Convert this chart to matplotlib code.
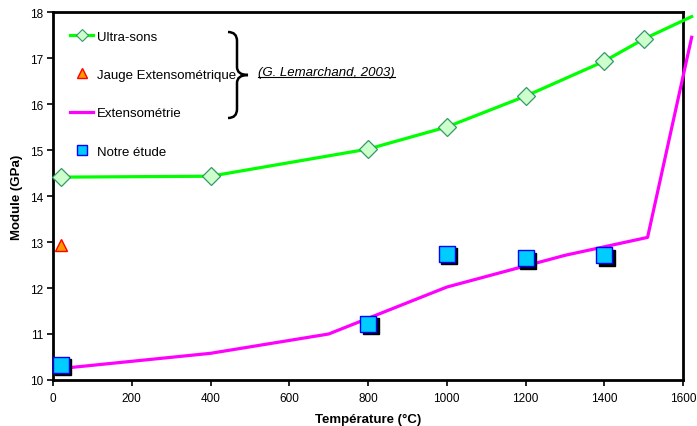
import matplotlib
matplotlib.use("Agg")
import matplotlib.pyplot as plt
import matplotlib.transforms as mtransforms
from matplotlib.path import Path
from matplotlib.patches import PathPatch
from matplotlib.lines import Line2D

plt.rcParams['font.family'] = ['Liberation Sans', 'DejaVu Sans']

# Ultra-sons (G. Lemarchand, 2003)
us_temp = [20, 400, 800, 1000, 1200, 1400, 1500, 1622]
us_mod = [14.41, 14.43, 15.02, 15.5, 16.17, 16.93, 17.41, 17.9]

# Extensometrie (G. Lemarchand, 2003)
ext_temp = [20, 400, 700, 1000, 1200, 1300, 1510, 1622]
ext_mod = [10.25, 10.58, 11.0, 12.02, 12.48, 12.71, 13.1, 17.45]

# Jauge extensometrique
jauge_temp = [20]
jauge_mod = [12.93]

# Notre etude
etude_temp = [20, 800, 1000, 1200, 1400]
etude_mod = [10.33, 11.22, 12.74, 12.65, 12.71]

x_ticks = [0, 200, 400, 600, 800, 1000, 1200, 1400, 1600]
y_ticks = [10, 11, 12, 13, 14, 15, 16, 17, 18]

W, H = 697, 427
fig = plt.figure(figsize=(W / 100, H / 100), dpi=100)
ax = fig.add_axes([53 / W, 1 - 381 / H, (683 - 53) / W, (381 - 13) / H])

green = '#00ff00'
magenta = '#ff00ff'

ax.plot(us_temp, us_mod, color=green, lw=2.3, clip_on=False, zorder=3,
        marker='D', markevery=list(range(len(us_temp) - 1)), markersize=9,
        markerfacecolor='#ccffcc', markeredgecolor='#339966', markeredgewidth=0.9)
ax.plot(ext_temp, ext_mod, color=magenta, lw=2.3, clip_on=False, zorder=3)

ax.plot(jauge_temp, jauge_mod, linestyle='none', marker='^', markersize=8,
        markerfacecolor='#ff9900', markeredgecolor='#ff0000', markeredgewidth=1, zorder=4)

# carres avec ombre portee
shadow = mtransforms.offset_copy(ax.transData, fig=fig, x=2.5, y=-2.5, units='dots')
ax.plot(etude_temp, etude_mod, linestyle='none', marker='s', markersize=11,
        color='black', transform=shadow, zorder=4, clip_on=False)
ax.plot(etude_temp, etude_mod, linestyle='none', marker='s', markersize=11,
        markerfacecolor='#00ccff', markeredgecolor='#0000ff', markeredgewidth=1,
        zorder=5, clip_on=False)

ax.set_xlim(0, 1600)
ax.set_ylim(10, 18)
ax.set_xticks(x_ticks)
ax.set_yticks(y_ticks)
ax.tick_params(direction='out', length=4, width=1.2, labelsize=8.5, pad=3)
ax.tick_params(axis='x', pad=5)
for s in ax.spines.values():
    s.set_linewidth(2)
    s.set_color('black')

ax.set_xlabel('Température (°C)', fontsize=9.5, fontweight='bold', labelpad=6)
ax.set_ylabel('Module (GPa)', fontsize=9.5, fontweight='bold', labelpad=5)

# legende
handles = [
    Line2D([], [], color=green, lw=2.3, marker='D', markersize=6,
           markerfacecolor='#ccffcc', markeredgecolor='#339966', markeredgewidth=0.8),
    Line2D([], [], linestyle='none', marker='^', markersize=6.5,
           markerfacecolor='#ff9900', markeredgecolor='#ff0000'),
    Line2D([], [], color=magenta, lw=2.3),
    Line2D([], [], linestyle='none', marker='s', markersize=6.5,
           markerfacecolor='#00ccff', markeredgecolor='#0000ff'),
]
labels = ['Ultra-sons', 'Jauge Extensométrique', 'Extensométrie', 'Notre étude']
leg = ax.legend(handles, labels, loc='upper left', bbox_to_anchor=(12 / 630, 1 - 13 / 368),
                frameon=False, fontsize=9.5, labelspacing=1.98, handlelength=1.75,
                handletextpad=0.25, borderaxespad=0)

# accolade
def fx(px):
    return px / W

def fy(py):
    return 1 - py / H

verts = [
    (228, 33), (237, 33), (237, 42),
    (237, 68),
    (237, 76), (248, 76),
    (237, 76), (237, 84),
    (237, 110),
    (237, 119), (228, 119),
]
codes = [Path.MOVETO, Path.CURVE3, Path.CURVE3, Path.LINETO,
         Path.CURVE3, Path.CURVE3, Path.CURVE3, Path.CURVE3,
         Path.LINETO, Path.CURVE3, Path.CURVE3]
brace = Path([(fx(x), fy(y)) for x, y in verts], codes)
fig.patches.append(PathPatch(brace, transform=fig.transFigure, fill=False,
                             lw=1.8, edgecolor='black', capstyle='butt'))

ref = fig.text(fx(258), fy(73), '(G. Lemarchand, 2003)', fontsize=9.5,
               style='italic', va='center', ha='left')
fig.canvas.draw()
bb = ref.get_window_extent()
fig.add_artist(Line2D([bb.x0 / W, bb.x1 / W], [(bb.y0 + 1) / H, (bb.y0 + 1) / H],
                      transform=fig.transFigure, color='black', lw=0.8))

fig.savefig('out.png', dpi=100)
